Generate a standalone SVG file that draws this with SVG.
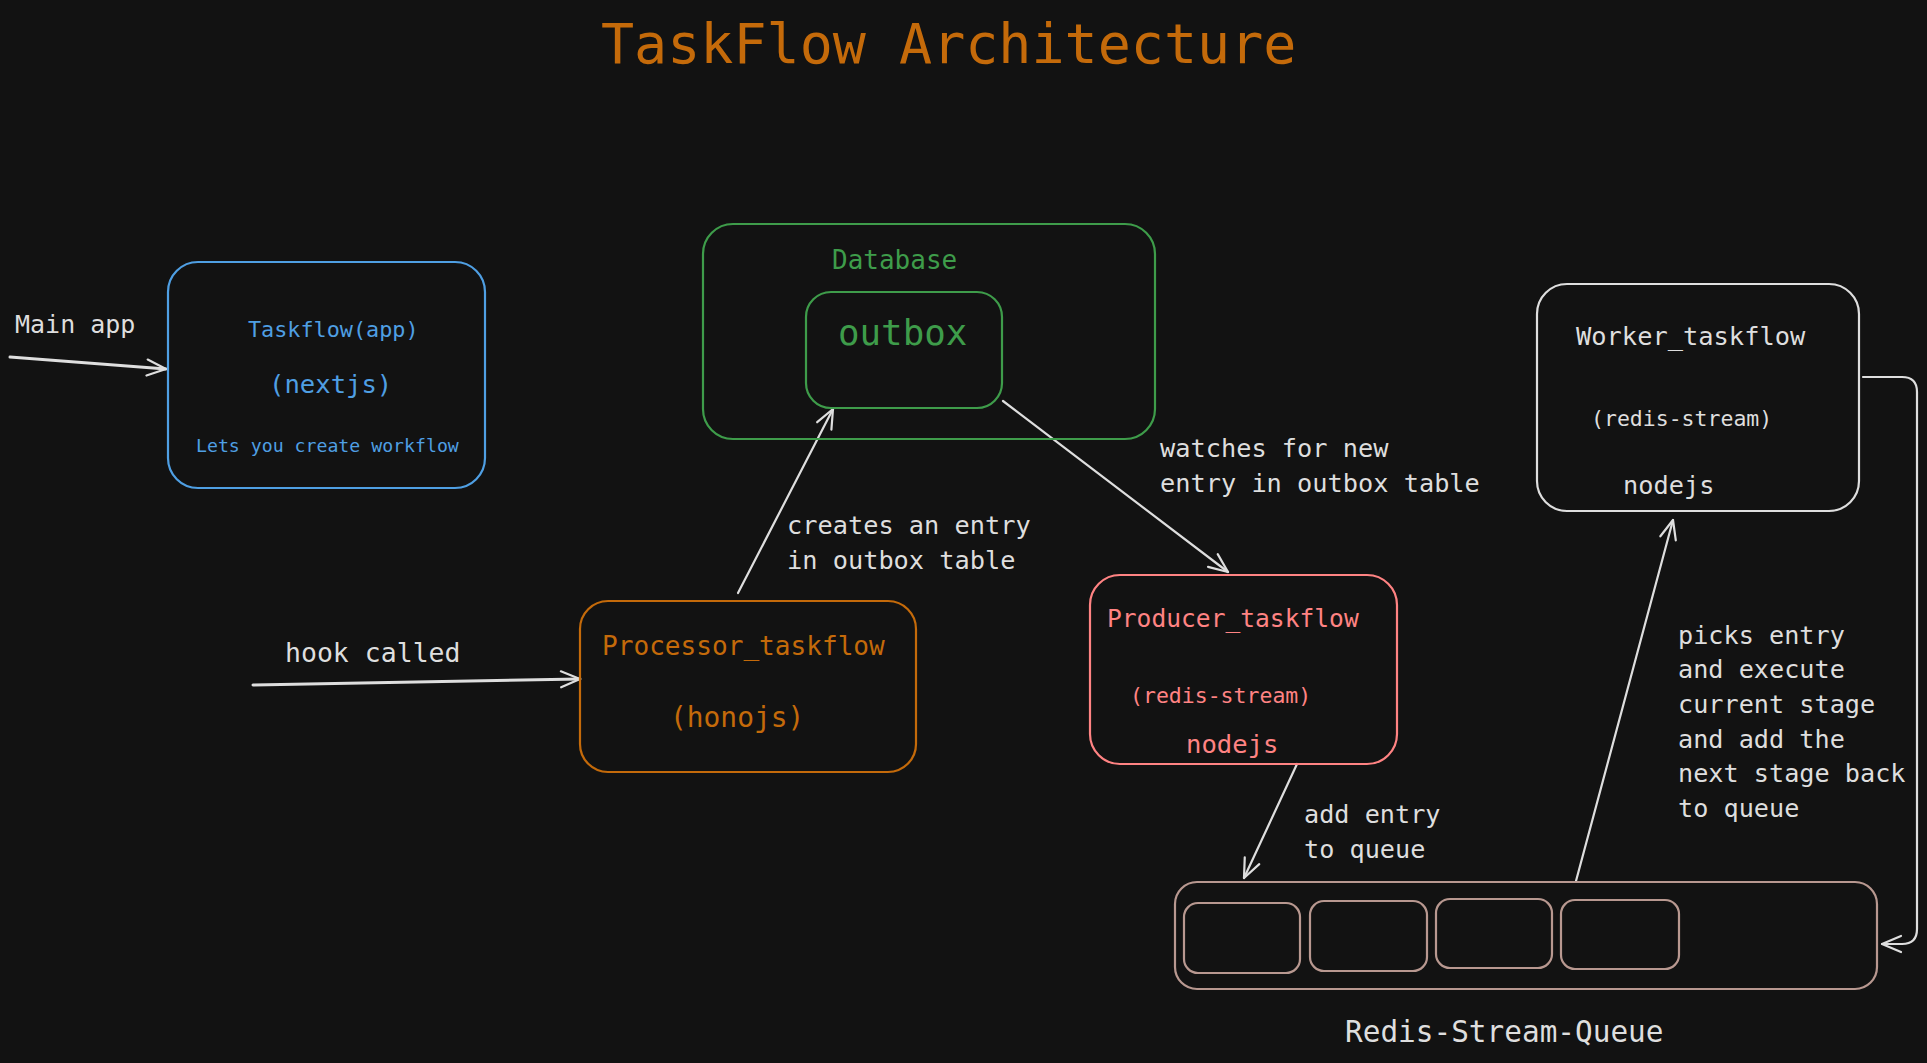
<svg xmlns="http://www.w3.org/2000/svg" width="1927" height="1063" viewBox="0 0 1927 1063">
<defs>
<style>
text{font-family:"DejaVu Sans Mono","Liberation Mono",monospace;}
.box{fill:none;stroke-width:2.2;}
.blue{stroke:#4f9fe3;} .tblue{fill:#4f9fe3;}
.green{stroke:#3e9c4a;} .tgreen{fill:#3e9c4a;}
.orange{stroke:#c46a0a;} .torange{fill:#c46a0a;}
.red{stroke:#ff8383;} .tred{fill:#ff8383;}
.white{stroke:#dedede;} .twhite{fill:#dedede;}
.queue{stroke:#b89890;}
.conn{fill:none;stroke:#dedede;stroke-width:2.2;stroke-linecap:round;stroke-linejoin:round;marker-end:url(#arr);}
</style>
<marker id="arr" markerUnits="userSpaceOnUse" viewBox="0 0 24 24" markerWidth="24" markerHeight="24" refX="22" refY="12" orient="auto">
<path d="M3,4 L22,12 L3,20" fill="none" stroke="#dedede" stroke-width="2.2" stroke-linecap="round" stroke-linejoin="round"/>
</marker>
</defs>
<rect width="1927" height="1063" fill="#121212"/>

<text x="601" y="63" font-size="55" class="torange">TaskFlow Architecture</text>

<g id="connectors">
<path class="conn" style="stroke-width:3" d="M10,357 L166,369"/>
<path class="conn" style="stroke-width:3" d="M253,685 L580,679"/>
<path class="conn" d="M738,593 L833,409"/>
<path class="conn" d="M1003,401 L1228,572"/>
<path class="conn" d="M1297,764 L1244,878"/>
<path class="conn" d="M1576,881 L1673,520"/>
<path class="conn" d="M1863,377 L1902,377 Q1917,377 1917,392 L1917,929 Q1917,944 1902,944 L1882,944"/>
</g>

<g id="label-main-app"><text x="15" y="333" font-size="25" class="twhite">Main app</text></g>
<g id="label-hook"><text x="285" y="662" font-size="26.5" class="twhite">hook called</text></g>
<g id="label-creates">
<text x="787" y="534" font-size="25.3" class="twhite">creates an entry</text>
<text x="787" y="569" font-size="25.3" class="twhite">in outbox table</text>
</g>
<g id="label-watches">
<text x="1160" y="457" font-size="25.3" class="twhite">watches for new</text>
<text x="1160" y="492" font-size="25.3" class="twhite">entry in outbox table</text>
</g>
<g id="label-add">
<text x="1304" y="823" font-size="25.2" class="twhite">add entry</text>
<text x="1304" y="858" font-size="25.2" class="twhite">to queue</text>
</g>
<g id="label-picks" font-size="25.2" class="twhite">
<text x="1678" y="644">picks entry</text>
<text x="1678" y="678">and execute</text>
<text x="1678" y="713">current stage</text>
<text x="1678" y="748">and add the</text>
<text x="1678" y="782">next stage back</text>
<text x="1678" y="817">to queue</text>
</g>

<g id="taskflow-app">
<rect class="box blue" x="168" y="262" width="317" height="226" rx="30"/>
<text x="248" y="337" font-size="21.8" class="tblue">Taskflow(app)</text>
<text x="269" y="393" font-size="25.6" class="tblue">(nextjs)</text>
<text x="196" y="452" font-size="18.2" class="tblue">Lets you create workflow</text>
</g>

<g id="database">
<rect class="box green" x="703" y="224" width="452" height="215" rx="30"/>
<text x="832" y="269" font-size="26" class="tgreen">Database</text>
</g>
<g id="outbox">
<rect class="box green" x="806" y="292" width="196" height="116" rx="25"/>
<text x="838" y="345" font-size="35.8" class="tgreen">outbox</text>
</g>

<g id="processor">
<rect class="box orange" x="580" y="601" width="336" height="171" rx="28"/>
<text x="602" y="655" font-size="26.1" class="torange">Processor_taskflow</text>
<text x="670" y="727" font-size="27.9" class="torange">(honojs)</text>
</g>

<g id="producer">
<rect class="box red" x="1090" y="575" width="307" height="189" rx="30"/>
<text x="1107" y="627" font-size="24.6" class="tred">Producer_taskflow</text>
<text x="1130" y="703" font-size="21.5" class="tred">(redis-stream)</text>
<text x="1186" y="753" font-size="25.6" class="tred">nodejs</text>
</g>

<g id="worker">
<rect class="box white" x="1537" y="284" width="322" height="227" rx="30"/>
<text x="1576" y="345" font-size="25.4" class="twhite">Worker_taskflow</text>
<text x="1591" y="426" font-size="21.5" class="twhite">(redis-stream)</text>
<text x="1623" y="494" font-size="25.3" class="twhite">nodejs</text>
</g>

<g id="redis-stream-queue">
<rect class="box queue" x="1175" y="882" width="702" height="107" rx="22"/>
<rect class="box queue" x="1184" y="903" width="116" height="70" rx="14"/>
<rect class="box queue" x="1310" y="901" width="117" height="70" rx="14"/>
<rect class="box queue" x="1436" y="899" width="116" height="69" rx="14"/>
<rect class="box queue" x="1561" y="900" width="118" height="69" rx="14"/>
<text x="1345" y="1042" font-size="29.4" class="twhite">Redis-Stream-Queue</text>
</g>
</svg>
